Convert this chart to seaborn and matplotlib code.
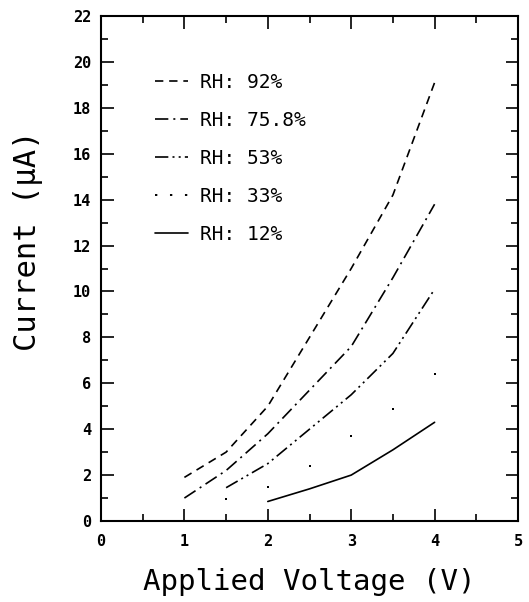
import matplotlib
matplotlib.use("Agg")
import matplotlib.pyplot as plt
import seaborn as sns
import pandas as pd
from matplotlib.lines import Line2D
from matplotlib.ticker import MultipleLocator

# Data
v_92 = [1.0, 1.5, 2.0, 3.0, 3.5, 4.0]
i_92 = [1.9, 3.0, 5.0, 11.0, 14.2, 19.1]
v_758 = [1.0, 1.5, 2.0, 3.0, 3.5, 4.0]
i_758 = [1.0, 2.2, 3.8, 7.6, 10.6, 13.8]
v_53 = [1.5, 2.0, 3.0, 3.5, 4.0]
i_53 = [1.45, 2.5, 5.5, 7.3, 10.1]
v_33 = [1.5, 2.0, 2.5, 3.0, 3.5, 4.0]
i_33 = [0.95, 1.5, 2.4, 3.7, 4.9, 6.4]
v_12 = [2.0, 2.5, 3.0, 3.5, 4.0]
i_12 = [0.85, 1.4, 2.0, 3.1, 4.3]
labels = ["RH: 92%", "RH: 75.8%", "RH: 53%", "RH: 33%", "RH: 12%"]

sns.set_theme(style="ticks")
plt.rcParams['font.family'] = ['DejaVu Sans Mono', 'DejaVu Sans']
plt.rcParams['text.color'] = 'black'
plt.rcParams['axes.labelcolor'] = 'black'
plt.rcParams['xtick.color'] = 'black'
plt.rcParams['ytick.color'] = 'black'

fig = plt.figure(figsize=(5.29, 6.02), dpi=100)
ax = fig.add_axes([101/529, 1-521/602, 417/529, 505/602])

styles = [(0, (5, 3.5)), (0, (8, 3, 1.2, 3)), (0, (8, 2.5, 1.2, 2.5, 1.2, 2.5)), None, '-']
series = [(v_92, i_92), (v_758, i_758), (v_53, i_53), (v_33, i_33), (v_12, i_12)]
handles = []
for (xv, yv), ls, lab in zip(series, styles, labels):
    df = pd.DataFrame({"V": xv, "I": yv})
    if ls is None:
        sns.scatterplot(data=df, x="V", y="I", ax=ax, color="black", s=4, marker='s', linewidth=0)
        handles.append(Line2D([], [], color="black", lw=1.4, linestyle=(0, (1.2, 6.5))))
    else:
        sns.lineplot(data=df, x="V", y="I", ax=ax, color="black", lw=1.2, linestyle=ls)
        handles.append(Line2D([], [], color="black", lw=1.2, linestyle=ls))

ax.set_xlim(0, 5)
ax.set_ylim(0, 22)
ax.xaxis.set_major_locator(MultipleLocator(1))
ax.xaxis.set_minor_locator(MultipleLocator(0.5))
ax.yaxis.set_major_locator(MultipleLocator(2))
ax.yaxis.set_minor_locator(MultipleLocator(1))
ax.tick_params(which='both', direction='in', top=True, right=True, color='black', width=1.2)
ax.tick_params(which='major', length=9)
ax.tick_params(which='minor', length=5)
ax.tick_params(axis='both', which='major', labelsize=11)
ax.tick_params(axis='x', which='major', pad=9)
ax.tick_params(axis='y', which='major', pad=7)
for lbl in ax.get_xticklabels() + ax.get_yticklabels():
    lbl.set_fontweight('bold')
for s in ax.spines.values():
    s.set_linewidth(1.5)
    s.set_color('black')

ax.set_xlabel("Applied Voltage (V)", fontsize=21, labelpad=14)
ax.set_ylabel("Current (\u03bcA)", fontsize=22)
ax.yaxis.set_label_coords(-0.14, 0.555)

leg = ax.legend(handles, labels, loc='upper left', bbox_to_anchor=(0.088, 0.922),
                frameon=False, fontsize=14, handlelength=1.7, labelspacing=0.98,
                handletextpad=0.62)

fig.savefig("out.png", dpi=100)
